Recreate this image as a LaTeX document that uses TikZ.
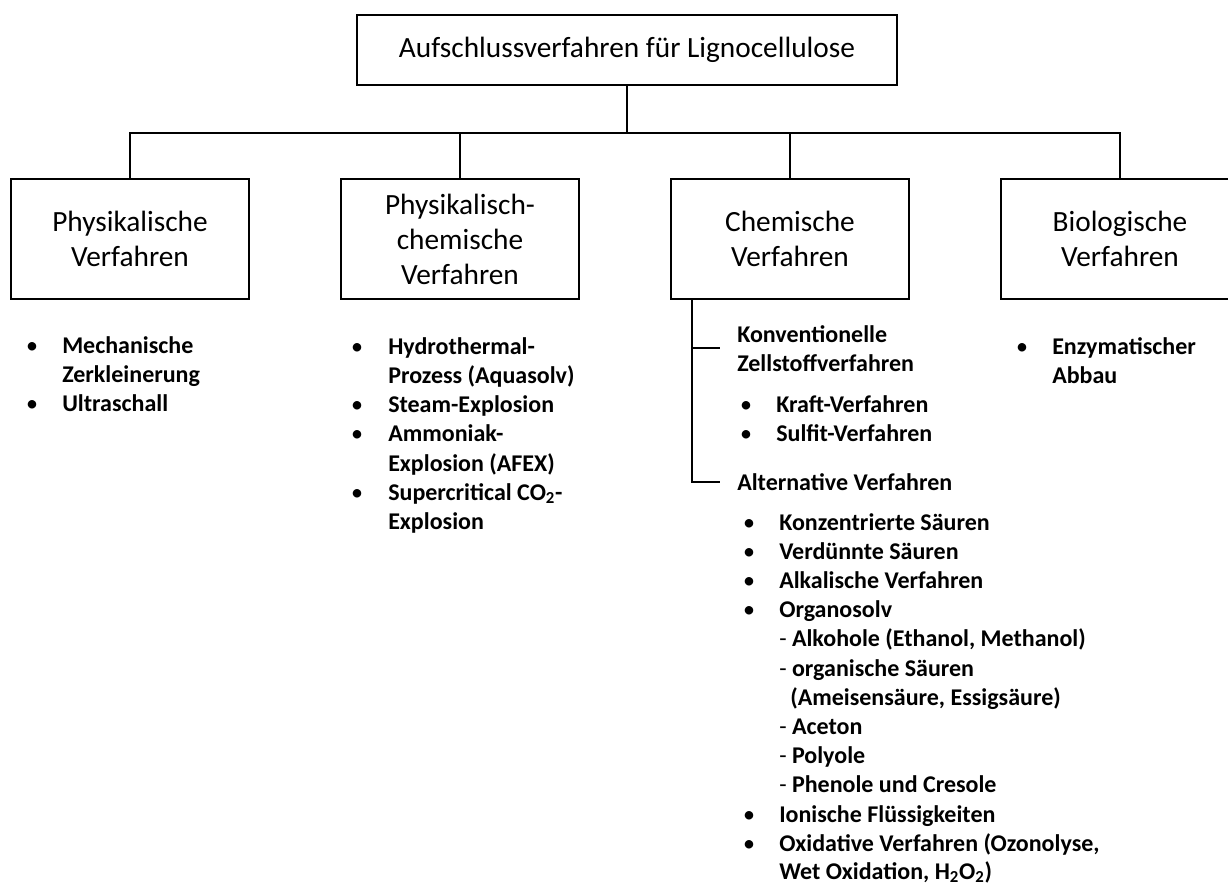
\documentclass[tikz,border=0pt]{standalone}
\usepackage{fontspec}
\setmainfont{Carlito}
\begin{document}
\begin{tikzpicture}[x=0.75pt,y=-0.75pt,
  box/.style={draw, line width=1.5pt, align=center, inner sep=0pt, font=\fontsize{22}{26.3}\selectfont},
  conn/.style={line width=1.5pt},
  itm/.style={anchor=base west, inner sep=0pt, font=\fontsize{18}{22}\selectfont\bfseries},
  bul/.style={anchor=base, inner sep=0pt, font=\fontsize{18}{22}\selectfont}]
\clip (0,0) rectangle (1228,886);
\fill[white] (0,0) rectangle (1228,886);

% boxes
\node[box, minimum width=405pt, minimum height=52.5pt] (top) at (627,50) {Aufschlussverfahren für Lignocellulose};
\node[box, minimum width=178.5pt, minimum height=90pt] (b1) at (130,239) {Physikalische\\Verfahren};
\node[box, minimum width=178.5pt, minimum height=90pt] (b2) at (460,239) {Physikalisch-\\chemische\\Verfahren};
\node[box, minimum width=178.5pt, minimum height=90pt] (b3) at (790,239) {Chemische\\Verfahren};
\node[box, minimum width=178.5pt, minimum height=90pt] (b4) at (1120,239) {Biologische\\Verfahren};

% tree connectors
\coordinate (hub) at (627,133);
\draw[conn] (top.south) -- (hub);
\draw[conn] (b1.north) -- (b1.north |- hub) -- (b4.north |- hub) -- (b4.north);
\draw[conn] (b2.north) -- (b2.north |- hub);
\draw[conn] (b3.north) -- (b3.north |- hub);

% chemical sub-tree
\coordinate (cs) at (692,299);
\coordinate (k1) at (720,348);
\coordinate (k2) at (720,482);
\draw[conn] (cs) |- (k2);
\draw[conn] (cs |- k1) -- (k1);

% column 1
\node[bul] (p1b) at (32,353) {•};
\node[itm] (p1) at (62,353) {Mechanische};
\node[itm] (p1c) at (62,382) {Zerkleinerung};
\node[bul] (p2b) at (32,411) {•};
\node[itm] (p2) at (62,411) {Ultraschall};

% column 2
\node[bul] (q1b) at (357,354) {•};
\node[itm] (q1) at (388,354) {Hydrothermal-};
\node[itm] (q1c) at (388,383.3) {Prozess (Aquasolv)};
\node[bul] (q2b) at (357,412.6) {•};
\node[itm] (q2) at (388,412.6) {Steam-Explosion};
\node[bul] (q3b) at (357,441.9) {•};
\node[itm] (q3) at (388,441.9) {Ammoniak-};
\node[itm] (q3c) at (388,471.2) {Explosion (AFEX)};
\node[bul] (q4b) at (357,500.5) {•};
\node[itm] (q4) at (388,500.5) {Supercritical CO\textsubscript{2}-};
\node[itm] (q4c) at (388,529.8) {Explosion};

% column 4
\node[bul] (r1b) at (1022,354) {•};
\node[itm] (r1) at (1052,354) {Enzymatischer};
\node[itm] (r1c) at (1052,383.3) {Abbau};

% column 3
\node[itm] (s1) at (737,342) {Konventionelle};
\node[itm] (s1c) at (737,371) {Zellstoffverfahren};
\node[bul] (s2b) at (746,412) {•};
\node[itm] (s2) at (776,412) {Kraft-Verfahren};
\node[bul] (s3b) at (746,441) {•};
\node[itm] (s3) at (776,441) {Sulfit-Verfahren};
\node[itm] (s4) at (737,490) {Alternative Verfahren};

\node[bul] (t1b) at (749,530) {•};
\node[itm] (t1) at (779,530) {Konzentrierte Säuren};
\node[bul] (t2b) at (749,559.2) {•};
\node[itm] (t2) at (779,559.2) {Verdünnte Säuren};
\node[bul] (t3b) at (749,588.4) {•};
\node[itm] (t3) at (779,588.4) {Alkalische Verfahren};
\node[bul] (t4b) at (749,617.6) {•};
\node[itm] (t4) at (779,617.6) {Organosolv};
\node[itm] (t5) at (779,646.8) {{\mdseries -} Alkohole (Ethanol, Methanol)};
\node[itm] (t6) at (779,676) {{\mdseries -} organische Säuren};
\node[itm] (t7) at (790,705.2) {(Ameisensäure, Essigsäure)};
\node[itm] (t8) at (779,734.4) {{\mdseries -} Aceton};
\node[itm] (t9) at (779,763.6) {{\mdseries -} Polyole};
\node[itm] (t10) at (779,792.8) {{\mdseries -} Phenole und Cresole};
\node[bul] (t11b) at (749,822) {•};
\node[itm] (t11) at (779,822) {Ionische Flüssigkeiten};
\node[bul] (t12b) at (749,851.2) {•};
\node[itm] (t12) at (779,851.2) {Oxidative Verfahren (Ozonolyse,};
\node[itm] (t13) at (779,879.5) {Wet Oxidation, H\textsubscript{2}O\textsubscript{2})};
\end{tikzpicture}
\end{document}
